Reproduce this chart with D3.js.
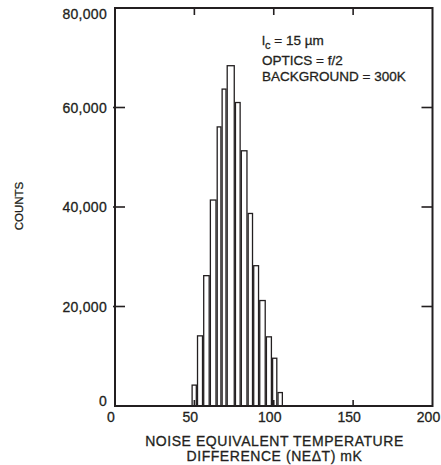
<!DOCTYPE html>
<html>
<head>
<meta charset="utf-8">
<script src="https://cdn.jsdelivr.net/npm/d3@7/dist/d3.min.js"></script>
<style>
  html, body { margin: 0; padding: 0; background: #fff; }
  svg { display: block; }
  text { font-family: "Liberation Sans", Arial, Helvetica, sans-serif; fill: #231f20; stroke: #231f20; stroke-width: 0.3px; }
</style>
</head>
<body>
<svg id="chart" width="441" height="465"></svg>
<script>
// ---- data ----
const binEdges = [48.2, 51.6, 55.5, 59.7, 64.0, 67.1, 70.3, 75.5, 79.2, 83.5, 87.0, 90.8, 95.0, 98.9, 102.3, 105.8]; // mK
const counts   = [4200, 14100, 26200, 41400, 56100, 63700, 68400, 61000, 51300, 38700, 28200, 21200, 13900, 9600, 2700];
const xTicks = [0, 50, 100, 150, 200];
const yTicks = [0, 20000, 40000, 60000, 80000];
const yTickLabels = ["0", "20,000", "40,000", "60,000", "80,000"];
const annotationLines = ["OPTICS = f/2", "BACKGROUND = 300K"];
const xTitle = ["NOISE EQUIVALENT TEMPERATURE", "DIFFERENCE (NE\u0394T) mK"];
const yTitle = "COUNTS";

(function () {
const bins = counts.map((c, i) => ({ x0: binEdges[i], x1: binEdges[i + 1], count: c }));

const ink = "#231f20";
const svg = d3.select("#chart");
const pL = 115, pR = 432.5, pT = 8, pB = 406;

const x = d3.scaleLinear().domain([0, 200]).range([pL, pR]);
const y = d3.scaleLinear().domain([0, 80000]).range([pB, pT]);

// bars
svg.append("g").selectAll("rect").data(bins).join("rect")
  .attr("x", d => x(d.x0) + 0.6)
  .attr("width", d => x(d.x1) - x(d.x0) - 1.2)
  .attr("y", d => y(d.count))
  .attr("height", d => y(0) - y(d.count))
  .attr("fill", "#fff")
  .attr("stroke", ink)
  .attr("stroke-width", 1.3);

// frame
svg.append("rect")
  .attr("x", pL).attr("y", pT)
  .attr("width", pR - pL).attr("height", pB - pT)
  .attr("fill", "none").attr("stroke", ink).attr("stroke-width", 2);

// ticks
const inner = [50, 100, 150];
const innerY = [20000, 40000, 60000];
const tg = svg.append("g").attr("stroke", ink).attr("stroke-width", 1.6);
inner.forEach(v => {
  tg.append("line").attr("x1", x(v)).attr("x2", x(v)).attr("y1", pT).attr("y2", pT + 7);
  tg.append("line").attr("x1", x(v)).attr("x2", x(v)).attr("y1", pB).attr("y2", pB - 6);
});
innerY.forEach(v => {
  tg.append("line").attr("x1", pL - 2).attr("x2", pL + 10).attr("y1", y(v)).attr("y2", y(v));
  tg.append("line").attr("x1", pR - 11).attr("x2", pR).attr("y1", y(v)).attr("y2", y(v));
});

// tick labels
svg.append("g").selectAll("text").data(xTicks).join("text")
  .attr("x", d => x(d) - 4)
  .attr("y", 422)
  .attr("text-anchor", "middle")
  .attr("font-size", 14)
  .text(d => d);

svg.append("g").selectAll("text").data(yTicks).join("text")
  .attr("x", pL - 8)
  .attr("y", d => Math.min(Math.max(y(d), pT + 6), pB - 5) + 5)
  .attr("text-anchor", "end")
  .attr("font-size", 14)
  .attr("letter-spacing", 0.3)
  .text((d, i) => yTickLabels[i]);

// axis titles
svg.append("g").selectAll("text").data(xTitle).join("text")
  .attr("x", 274.5)
  .attr("y", (d, i) => 446 + i * 14.5)
  .attr("text-anchor", "middle")
  .attr("font-size", 14)
  .attr("letter-spacing", 0.55)
  .text(d => d);

svg.append("text")
  .attr("transform", "translate(23,206) rotate(-90)")
  .attr("text-anchor", "middle")
  .attr("font-size", 11.5)
  .text(yTitle);

// annotation
const ax = 262;
const a0 = svg.append("text").attr("x", ax).attr("y", 45).attr("font-size", 13.5);
a0.append("tspan").text("l");
a0.append("tspan").attr("font-size", 11).attr("dy", 4).text("c");
a0.append("tspan").attr("dy", -4).text(" = 15 \u00b5m");
annotationLines.forEach((t, i) => {
  svg.append("text").attr("x", ax).attr("y", 65 + i * 15.5).attr("font-size", 13.5).text(t);
});
})();
</script>
</body>
</html>
